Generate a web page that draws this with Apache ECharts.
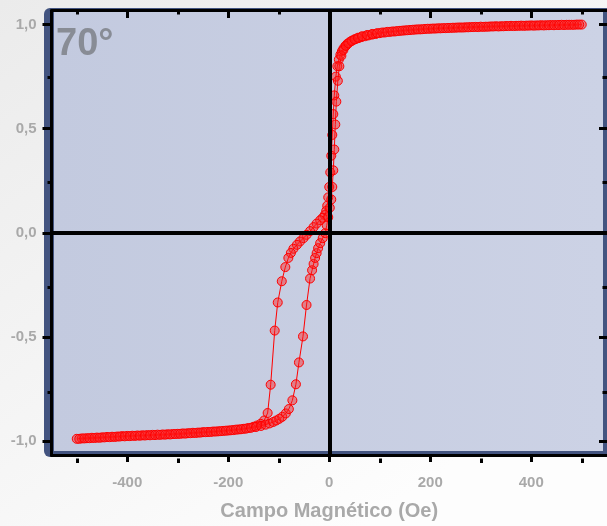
<!DOCTYPE html>
<html><head><meta charset="utf-8">
<script src="https://cdn.jsdelivr.net/npm/echarts@6/dist/echarts.min.js"></script>
<style>html,body{margin:0;padding:0;}#c{width:607px;height:526px;}</style>
</head><body><div id="c"></div>
<script>
// Descending branch (+500 -> -500 Oe)
const fieldDown = [500,490,480,470,460,450,440,430,420,410,400,390,380,370,360,350,340,330,320,310,300,290,280,270,260,250,240,230,220,210,200,190,180,170,160,150,140,130,120,110,100,
92,85,78,71,64,58,52,46,41,36,32,28,25,22,19,16,13,10,8,6,4,2,0,-2,-4,-6,-9,-13,-18,-25,-31,-38,-45,-51,-58,-64,-71,-76,-81,-87,-94,-102,-108,-116,-122,-129,-136,-143,-150,
-160,-170,-180,-190,-200,-210,-220,-230,-240,-250,-260,-270,-280,-290,-300,-310,-320,-330,-340,-350,-360,-370,-380,-390,-400,-410,-420,-430,-440,-450,-460,-470,-480,-490,-500];
const magDown = [1.000,1.000,0.999,0.999,0.999,0.998,0.998,0.997,0.997,0.996,0.996,0.995,0.995,0.994,0.994,0.993,0.992,0.992,0.991,0.990,0.990,0.989,0.988,0.987,0.986,0.985,0.984,0.983,0.982,0.981,0.980,0.979,0.977,0.976,0.974,0.972,0.970,0.967,0.965,0.962,0.959,
0.955,0.952,0.948,0.944,0.940,0.935,0.930,0.924,0.917,0.908,0.898,0.885,0.872,0.855,0.832,0.800,0.750,0.660,0.570,0.470,0.370,0.290,0.220,0.170,0.130,0.105,0.085,0.072,0.060,0.044,0.027,0.008,-0.010,-0.026,-0.042,-0.058,-0.077,-0.097,-0.121,-0.165,-0.233,-0.335,-0.470,-0.730,-0.866,-0.902,-0.918,-0.926,-0.932,
-0.938,-0.942,-0.945,-0.948,-0.950,-0.952,-0.954,-0.955,-0.957,-0.958,-0.960,-0.961,-0.963,-0.964,-0.966,-0.967,-0.968,-0.969,-0.970,-0.971,-0.972,-0.973,-0.974,-0.975,-0.976,-0.977,-0.979,-0.980,-0.981,-0.983,-0.984,-0.985,-0.987,-0.988,-0.990];

// Ascending branch (-500 -> +500 Oe)
const fieldUp = [-495,-485,-475,-465,-455,-445,-435,-425,-415,-405,-395,-385,-375,-365,-355,-345,-335,-325,-315,-305,-295,-285,-275,-265,-255,-245,-235,-225,-215,-205,-195,-185,-175,-165,-155,-145,-135,
-126,-118,-111,-105,-99,-93,-86,-80,-73,-66,-60,-52,-45,-38,-34,-31,-28,-25,-22,-18,-13,-8,-5,-2,1,4,6,8,10,12,14,17,20,24,28,33,38,44,50,57,65,75,85,95,
105,115,125,135,145,155,165,175,185,195,205,215,225,235,245,255,265,275,285,295,305,315,325,335,345,355,365,375,385,395,405,415,425,435,445,455,465,475,485,495];
const magUp = [-0.990,-0.988,-0.987,-0.986,-0.985,-0.983,-0.982,-0.981,-0.979,-0.978,-0.977,-0.976,-0.975,-0.974,-0.973,-0.972,-0.971,-0.970,-0.969,-0.967,-0.966,-0.965,-0.963,-0.962,-0.960,-0.958,-0.957,-0.955,-0.953,-0.951,-0.949,-0.946,-0.944,-0.941,-0.937,-0.933,-0.928,
-0.922,-0.916,-0.909,-0.902,-0.894,-0.884,-0.868,-0.847,-0.805,-0.728,-0.623,-0.498,-0.347,-0.220,-0.180,-0.150,-0.121,-0.098,-0.074,-0.050,-0.026,-0.002,0.035,0.075,0.120,0.160,0.220,0.300,0.400,0.520,0.630,0.730,0.800,0.850,0.878,0.898,0.910,0.921,0.929,0.937,0.944,0.950,0.955,0.959,
0.962,0.965,0.967,0.969,0.971,0.973,0.975,0.977,0.978,0.980,0.981,0.982,0.983,0.984,0.985,0.986,0.986,0.987,0.988,0.988,0.989,0.990,0.991,0.991,0.992,0.993,0.993,0.994,0.994,0.995,0.995,0.996,0.996,0.997,0.997,0.998,0.998,0.999,0.999,1.000];

const xMajorTicks = [-400,-200,0,200,400];
const xMinorTicks = [-500,-300,-100,100,300,500];
const yMajorTicks = [-1,-0.5,0,0.5,1];
const yMinorTicks = [-0.75,-0.25,0.25,0.75];
const xTitle = 'Campo Magnético (Oe)';
const angleLabel = '70°';

const chart = echarts.init(document.getElementById('c'), null, {renderer:'canvas'});
const FONT = "'Liberation Sans', Arial, sans-serif";
const LABEL_COLOR = '#a9a9a9';
const gridRect = {left:51.5, top:10.5, width:558, height:448};
const xRange = {min:-550, max:550};
const yRange = {min:-1.0677, max:1.0677};

function pairs(xs, ys){ return xs.map((x,i)=>[x, ys[i]]); }
const noLabel = {show:false};
const blackLine = {show:true, onZero:false, lineStyle:{color:'#000', width:3}};
const hiddenLine = {show:false, onZero:false};

const option = {
  animation:false,
  backgroundColor:{type:'linear', x:0, y:0, x2:0.6, y2:1, colorStops:[{offset:0,color:'#ebebeb'},{offset:1,color:'#fdfdfd'}]},
  graphic:[
    {type:'rect', z:-20, silent:true, shape:{x:44, y:8, width:572, height:449, r:6}, style:{fill:'#435480'}},
    {type:'rect', z:-19, silent:true, shape:{x:54, y:12, width:549, height:439},
      style:{fill:new echarts.graphic.LinearGradient(0,0,1,0,[{offset:0,color:'#c3cadf'},{offset:1,color:'#ccd2e5'}])}},
    {type:'text', z:10, silent:true, x:56, y:45, style:{text:angleLabel, fontSize:38, fontWeight:'bold', fontFamily:FONT, fill:'#888c95', verticalAlign:'middle', align:'left'}}
  ],
  grid:[Object.assign({}, gridRect), Object.assign({}, gridRect)],
  xAxis:[
    Object.assign({gridIndex:0, type:'value', position:'bottom'}, xRange, {
      axisLine:blackLine, splitLine:{show:false},
      axisTick:{show:true, inside:false, length:7, lineStyle:{color:'#000', width:3}, customValues:xMajorTicks},
      axisLabel:{show:true, customValues:xMajorTicks, margin:20, color:LABEL_COLOR, fontWeight:'bold', fontSize:15, fontFamily:FONT, formatter:v=>String(v)},
      name:xTitle, nameLocation:'middle', nameGap:46, nameTextStyle:{color:LABEL_COLOR, fontWeight:'bold', fontSize:20, fontFamily:FONT}
    }),
    Object.assign({gridIndex:0, type:'value', position:'top'}, xRange, {
      axisLine:blackLine, splitLine:{show:false},
      axisTick:{show:true, inside:true, length:7.5, lineStyle:{color:'#000', width:3}, customValues:xMajorTicks},
      axisLabel:noLabel
    }),
    Object.assign({gridIndex:1, type:'value', position:'bottom'}, xRange, {
      axisLine:hiddenLine, splitLine:{show:false},
      axisTick:{show:true, inside:false, length:4.5, lineStyle:{color:'#000', width:3}, customValues:xMinorTicks},
      axisLabel:noLabel
    }),
    Object.assign({gridIndex:1, type:'value', position:'top'}, xRange, {
      axisLine:hiddenLine, splitLine:{show:false},
      axisTick:{show:true, inside:true, length:4, lineStyle:{color:'#000', width:3}, customValues:xMinorTicks},
      axisLabel:noLabel
    })
  ],
  yAxis:[
    Object.assign({gridIndex:0, type:'value', position:'left'}, yRange, {
      axisLine:blackLine, splitLine:{show:false},
      axisTick:{show:true, inside:false, length:9, lineStyle:{color:'#000', width:3}, customValues:yMajorTicks},
      axisLabel:{show:true, customValues:yMajorTicks, margin:15, color:LABEL_COLOR, fontWeight:'bold', fontSize:15, fontFamily:FONT,
        formatter:v=>Number(v).toFixed(1).replace('.', ',')}
    }),
    Object.assign({gridIndex:0, type:'value', position:'right'}, yRange, {
      axisLine:hiddenLine, splitLine:{show:false},
      axisTick:{show:true, inside:true, length:8, lineStyle:{color:'#000', width:3}, customValues:yMajorTicks},
      axisLabel:noLabel
    }),
    Object.assign({gridIndex:1, type:'value', position:'left'}, yRange, {
      axisLine:hiddenLine, splitLine:{show:false},
      axisTick:{show:true, inside:false, length:4, lineStyle:{color:'#000', width:3}, customValues:yMinorTicks},
      axisLabel:noLabel
    }),
    Object.assign({gridIndex:1, type:'value', position:'right'}, yRange, {
      axisLine:hiddenLine, splitLine:{show:false},
      axisTick:{show:true, inside:true, length:4.5, lineStyle:{color:'#000', width:3}, customValues:yMinorTicks},
      axisLabel:noLabel
    })
  ],
  series:[
    {type:'line', xAxisIndex:0, yAxisIndex:0, data:[], z:1, silent:true,
      markLine:{silent:true, symbol:['none','none'], label:{show:false}, animation:false,
        lineStyle:{color:'#000', width:4, type:'solid'}, emphasis:{disabled:true},
        data:[{xAxis:0},{yAxis:0}]}},
    {type:'line', name:'down', xAxisIndex:0, yAxisIndex:0, data:pairs(fieldDown, magDown), z:3,
      symbol:'circle', symbolSize:9, showSymbol:true, showAllSymbol:true,
      lineStyle:{color:'#ff0000', width:1},
      itemStyle:{color:'rgba(255,30,30,0.45)', borderColor:'#ff0000', borderWidth:1}},
    {type:'line', name:'up', xAxisIndex:0, yAxisIndex:0, data:pairs(fieldUp, magUp), z:3,
      symbol:'circle', symbolSize:9, showSymbol:true, showAllSymbol:true,
      lineStyle:{color:'#ff0000', width:1},
      itemStyle:{color:'rgba(255,30,30,0.45)', borderColor:'#ff0000', borderWidth:1}}
  ]
};
chart.setOption(option);
</script>
</body></html>
